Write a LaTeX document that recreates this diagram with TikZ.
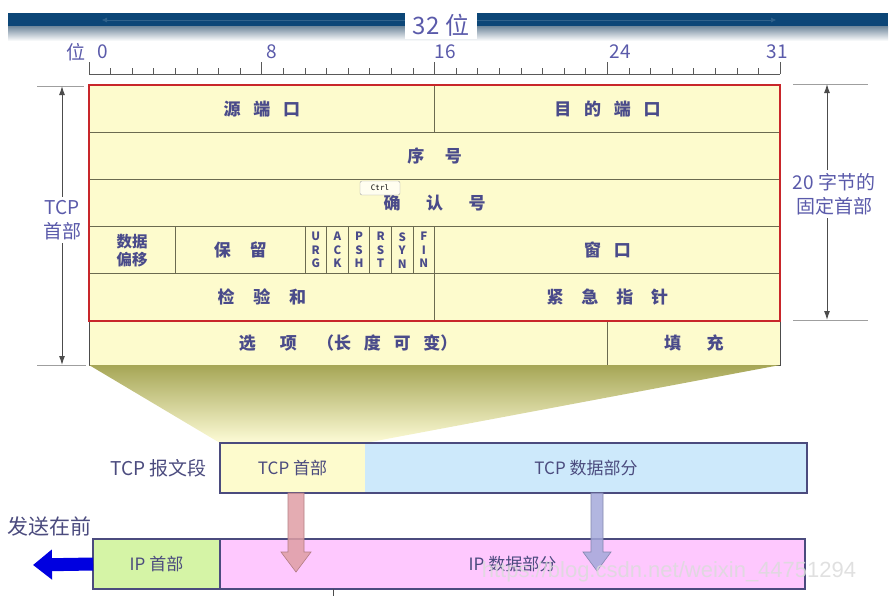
\documentclass[tikz,border=0pt]{standalone}
\usepackage{fontspec}
\setmainfont{Noto Sans CJK SC}
\newfontfamily\wmfont{Liberation Sans}
\newfontfamily\keyfont{DejaVu Sans Mono}
\usetikzlibrary{positioning,arrows.meta,calc}
\definecolor{hBand}{HTML}{0C4677}
\definecolor{hYel}{HTML}{FDFBCD}
\definecolor{hGrid}{HTML}{6B6A50}
\definecolor{hRed}{HTML}{C8262A}
\definecolor{hTxt}{HTML}{4A4B8A}
\definecolor{hLbl}{HTML}{5A5AAA}
\definecolor{hSeg}{HTML}{4B4B7E}
\definecolor{hData}{HTML}{CDE9FB}
\definecolor{hIpHdr}{HTML}{D5F4A6}
\definecolor{hIpData}{HTML}{FEC8FE}
\definecolor{hPink}{HTML}{DF9EA4}
\definecolor{hLav}{HTML}{A4A9DA}
\tikzset{
  cell/.style={draw=hGrid, fill=hYel, line width=0.8pt, anchor=north west,
               inner sep=0pt, outer sep=0pt, text=hTxt, minimum height=47.2,
               font=\bfseries\fontsize{17}{19}\selectfont},
  flagcell/.style={cell, align=center, font=\bfseries\fontsize{11.5}{13.5}\selectfont},
  rulerlbl/.style={text=hLbl, font=\fontsize{19}{21}\selectfont, inner sep=0pt},
  rulerline/.style={draw=black!65, line width=0.8pt},
  dimline/.style={draw=gray!75, line width=1pt},
  dimarrow/.style={{Latex[length=9pt,width=6pt]}-{Latex[length=9pt,width=6pt]},
                   draw=gray!60!black, line width=1pt},
  dimlbl/.style={text=hLbl, fill=white, align=center, inner sep=3pt,
                 font=\fontsize{19}{24}\selectfont},
  segbox/.style={anchor=north west, inner sep=0pt, outer sep=0pt, minimum height=50,
                 text=hSeg, font=\fontsize{17}{19}\selectfont},
  segline/.style={draw=hSeg, line width=1.2pt},
  seglbl/.style={text=hSeg, inner sep=0pt, font=\fontsize{19}{21}\selectfont},
  pushdn/.style={line width=0.6pt, fill opacity=0.85},
  sendarrow/.style={-{Triangle[length=19pt,width=29pt]}, line width=13pt, draw=blue!88!black},
}
\newcommand{\gp}{\hspace{0.75em}}

\begin{document}
\begin{tikzpicture}[x=1pt, y=-1pt]
\useasboundingbox (0,0) rectangle (894,608);

\def\X{89}    % left edge of the header table
\def\B{21.6}  % one bit
\def\R{47.2}  % one 32-bit row

%% ── band with the word width ─────────────────────────────────────────────
\fill[hBand] (8,13) rectangle (888,26);
\shade[top color=hBand!55!gray!75, bottom color=white] (8,26) rectangle (888,41);
\draw[{Latex[length=5pt,width=5pt]}-{Latex[length=5pt,width=5pt]}, hBand!85!white, line width=0.5pt]
  (102,20) -- (776,20);
\node[fill=white, minimum width=72, minimum height=28, text=hLbl,
      font=\fontsize{24}{26}\selectfont] (width32) at (441,25) {32 位};

%% ── bit ruler ────────────────────────────────────────────────────────────
\node[rulerlbl] (bitword) at (76,52) {位};
\node[rulerlbl] (bit0)  at (103,52) {0};
\node[rulerlbl] (bit8)  at (272,52) {8};
\node[rulerlbl] (bit16) at (445,52) {16};
\node[rulerlbl] (bit24) at (620,52) {24};
\node[rulerlbl] (bit31) at (777,52) {31};
\draw[rulerline] (\X,74) -- ({\X+32*\B},74);
\foreach \i in {0,...,32} {
  \pgfmathsetmacro\tl{mod(\i,8)==0 ? 12 : 6}
  \draw[rulerline] ({\X+\i*\B},74) -- ++(0,-\tl);
}

%% ── header fields ────────────────────────────────────────────────────────
\node[cell, minimum width=16*\B] (srcport) at (\X,85) {源\gp 端\gp 口};
\node[cell, minimum width=16*\B] (dstport) at ({\X+16*\B},85) {目\gp 的\gp 端\gp 口};
\node[cell, minimum width=32*\B] (seqno)   at (\X,{85+\R}) {序\hspace{1.2em}号};
\node[cell, minimum width=32*\B] (ackno)   at (\X,{85+2*\R}) {确\hspace{1.5em}认\hspace{1.5em}号};

\node[cell, minimum width=4*\B, align=center, font=\bfseries\fontsize{15.5}{18}\selectfont]
  (doff) at (\X,{85+3*\R}) {数据\\偏移};
\node[cell, minimum width=6*\B]  (rsv) at ({\X+4*\B},{85+3*\R}) {保\hspace{1.1em}留};
\node[flagcell, minimum width=\B] (furg) at ({\X+10*\B},{85+3*\R}) {U\\R\\G};
\node[flagcell, minimum width=\B] (fack) at ({\X+11*\B},{85+3*\R}) {A\\C\\K};
\node[flagcell, minimum width=\B] (fpsh) at ({\X+12*\B},{85+3*\R}) {P\\S\\H};
\node[flagcell, minimum width=\B] (frst) at ({\X+13*\B},{85+3*\R}) {R\\S\\T};
\node[flagcell, minimum width=\B] (fsyn) at ({\X+14*\B},{85+3*\R}) {S\\Y\\N};
\node[flagcell, minimum width=\B] (ffin) at ({\X+15*\B},{85+3*\R}) {F\\I\\N};
\node[cell, minimum width=16*\B] (window) at ({\X+16*\B},{85+3*\R}) {窗\gp 口};

\node[cell, minimum width=16*\B] (cksum)  at (\X,{85+4*\R}) {检\hspace{1.1em}验\hspace{1.1em}和};
\node[cell, minimum width=16*\B] (urgptr) at ({\X+16*\B},{85+4*\R}) {紧\hspace{1.05em}急\hspace{1.05em}指\hspace{1.05em}针};

\node[cell, minimum width=24*\B, minimum height=44] (opts) at (\X,{85+5*\R})
  {选\hspace{1.4em}项\hspace{1.2em}（长\gp 度\gp 可\gp 变）};
\node[cell, minimum width=8*\B, minimum height=44] (pad) at ({\X+24*\B},{85+5*\R})
  {填\hspace{1.5em}充};
\draw[draw=black!70, line width=1pt] (opts.north west) rectangle (pad.south east);

% the fixed 20 bytes
\draw[hRed, line width=2.4pt] (srcport.north west) rectangle (urgptr.south east);

% screen leftovers
\node[draw=gray!70, fill=yellow!6, rounded corners=2pt, minimum width=40, minimum height=14,
      inner sep=1pt, font=\keyfont\fontsize{7.5}{8}\selectfont] (ctrlkey) at (380,188) {Ctrl};
\node[text=red, inner sep=0pt, font=\bfseries\fontsize{11}{11}\selectfont] (cursor) at (183,385) {+};

%% ── dimensions left and right ────────────────────────────────────────────
\coordinate (ltop) at (62,86);
\coordinate (lbot) at (62,365);
\draw[dimline] (ltop) ++(-25,0) -- ++(47,0);
\draw[dimline] (lbot) ++(-25,0) -- ++(49,0);
\draw[dimarrow] (ltop) -- (lbot);
\node[dimlbl] (tcphdrlbl) at (62,220) {TCP\\首部};

\coordinate (rtop) at (827,84);
\coordinate (rbot) at (827,320);
\draw[dimline] (rtop) ++(-34,0) -- ++(75,0);
\draw[dimline] (rbot) ++(-34,0) -- ++(75,0);
\draw[dimarrow] (rtop) -- (rbot);
\node[dimlbl] (fixedlbl) at (834,194) {20 字节的\\固定首部};

%% ── the segment and the datagram ─────────────────────────────────────────
\node[segbox, fill=hYel, minimum width=145] (tcphdr) at (220,443) {TCP 首部};
\node[segbox, fill=hData, minimum width=442, right=0pt of tcphdr] (tcpdata) {TCP 数据部分};

\shade[top color=olive!45!gray!70, bottom color=hYel!80!white]
  (opts.south west) -- (pad.south east) -- (tcphdr.north east) -- (tcphdr.north west) -- cycle;

\draw[segline] (tcphdr.north west) rectangle (tcpdata.south east);
\node[seglbl, left=13pt of tcphdr] (seglab) {TCP 报文段};

\node[segbox, fill=hIpHdr, draw=hSeg, line width=1.2pt, minimum width=127] (iphdr) at (93,539) {IP 首部};
\node[segbox, fill=hIpData, draw=hSeg, line width=1.2pt, minimum width=585, right=0pt of iphdr]
  (ipdata) {IP 数据部分};
\node[seglbl, font=\fontsize{21}{23}\selectfont] (sendfirst) at (49,526) {发送在前};
\coordinate (sendtip) at (33,565);
\draw[sendarrow] (iphdr.west) -- (sendtip);
\draw[black!70, line width=0.8pt] (ipdata.south west) ++(113,0) -- ++(0,7);

%% ── header and data go down into the datagram ────────────────────────────
\filldraw[pushdn, fill=hPink, draw=hPink!80!black]
  ([xshift=3.5pt]tcphdr.south) ++(-8,0) -- ++(16,0) -- ++(0,59) -- ++(7,0)
  -- ++(-15,20) -- ++(-15,-20) -- ++(7,0) -- cycle;
\filldraw[pushdn, fill=hLav, draw=hLav!80!black]
  ([xshift=11pt]tcpdata.south) ++(-6,0) -- ++(12,0) -- ++(0,59) -- ++(8,0)
  -- ++(-14,19) -- ++(-14,-19) -- ++(8,0) -- cycle;

\node[text=white!72!gray, opacity=0.85, inner sep=0pt,
      font=\wmfont\fontsize{22}{24}\selectfont] (wmark) at (669,572)
  {https://blog.csdn.net/weixin\_44751294};

\end{tikzpicture}
\end{document}
